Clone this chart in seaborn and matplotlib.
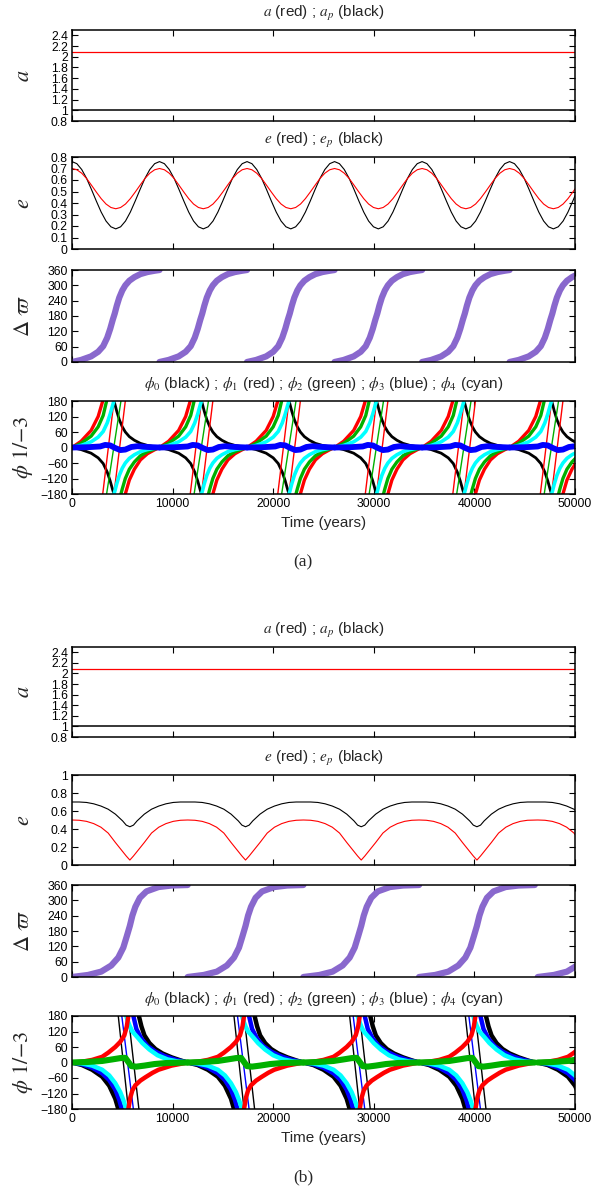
import numpy as np
import pandas as pd
import matplotlib
matplotlib.use("Agg")
import matplotlib.pyplot as plt
from matplotlib.ticker import FuncFormatter
import seaborn as sns

# ---------------------------------------------------------------- data (a)
a_t = [0, 50000]
a_red_a = [2.08, 2.08]      # a   (red)
a_black_a = [1.0, 1.0]      # a_p (black)

# start of every circulation of the apsidal angle (years)
cycle_a = [0, 8700, 17400, 26100, 34800, 43500]

# one cycle of e and e_p, offsets in years from the cycle start
e_off_a = [0, 483, 967, 1450, 1933, 2417, 2900, 3383, 3867, 4350,
           4833, 5317, 5800, 6283, 6767, 7250, 7733, 8217]
e_black_a = [0.760, 0.742, 0.691, 0.614, 0.518, 0.417, 0.321, 0.243, 0.193,
             0.175, 0.193, 0.243, 0.321, 0.417, 0.518, 0.614, 0.691, 0.742]
e_red_a = [0.700, 0.689, 0.659, 0.613, 0.555, 0.495, 0.438, 0.391, 0.361,
           0.350, 0.361, 0.391, 0.438, 0.495, 0.555, 0.613, 0.659, 0.689]

# delta varpi, one cycle
dw_a = [([0, 900, 1900, 2600, 3100, 3500, 3800, 4050, 4250, 4450, 4700, 5000,
          5300, 5700, 6200, 6800, 7500, 8200, 8700],
         [0, 8, 22, 40, 62, 95, 130, 165, 190, 220, 252, 280,
          300, 318, 332, 344, 352, 357, 360])]

# resonant angles, one cycle, split where they wrap at +-180
phi0_a = [([0, 900, 1900, 2600, 3100, 3500, 3800, 4050, 4170],
           [0, -8, -22, -40, -62, -95, -130, -165, -180]),
          ([4170, 4250, 4450, 4700, 5000, 5300, 5700, 6200, 6800, 7500, 8200, 8700],
           [180, 170, 140, 108, 80, 60, 42, 28, 16, 8, 3, 0])]
phi1_a = [([0, 900, 1900, 2600, 3055], [0, 24, 66, 120, 180]),
          ([3055, 4170], [-180, 180]),
          ([4170, 5300], [-180, 180]),
          ([5300, 5700, 6200, 6800, 7500, 8200, 8700],
           [-180, -126, -84, -48, -24, -9, 0])]
phi2_a = [([0, 900, 1900, 2600, 3100, 3440], [0, 16, 44, 80, 124, 180]),
          ([3440, 4865], [-180, 180]),
          ([4865, 5000, 5300, 5700, 6200, 6800, 7500, 8200, 8700],
           [-180, -160, -120, -84, -56, -32, -16, -6, 0])]
phi3_a = [([0, 1500, 2800, 3300, 3800, 4300, 4800, 5300, 5900, 6500, 7500, 8700],
           [0, 1, 4, 10, 8, -2, -10, -8, 2, 5, 2, 0])]
phi4_a = [([0, 900, 1900, 2600, 3100, 3500, 3800, 4050, 4170],
           [0, 8, 22, 40, 62, 95, 130, 165, 180]),
          ([4170, 4250, 4450, 4700, 5000, 5300, 5700, 6200, 6800, 7500, 8200, 8700],
           [-180, -170, -140, -108, -80, -60, -42, -28, -16, -8, -3, 0])]

# ---------------------------------------------------------------- data (b)
a_red_b = [2.09, 2.09]
a_black_b = [1.0, 1.0]

cycle_b = [0, 11500, 23000, 34500, 46300]

e_off_b = [0, 719, 1438, 2156, 2875, 3594, 4313, 5031, 5390, 5750, 6110, 6469,
           7188, 7906, 8625, 9344, 10063, 10781]
e_black_b = [0.700, 0.700, 0.695, 0.680, 0.655, 0.620, 0.565, 0.490, 0.443, 0.425,
             0.443, 0.490, 0.565, 0.620, 0.655, 0.680, 0.695, 0.700]
e_red_b = [0.500, 0.497, 0.485, 0.460, 0.420, 0.355, 0.250, 0.150, 0.100, 0.055,
           0.100, 0.150, 0.250, 0.355, 0.420, 0.460, 0.485, 0.497]

dw_b = [([0, 1600, 2900, 3900, 4600, 5100, 5450, 5750, 6000, 6300, 6750, 7400,
          8600, 9900, 11500],
         [0, 8, 21, 45, 76, 115, 160, 200, 240, 275, 310, 335, 352, 358, 360])]

phi0_b = [([0, 1000, 2000, 3000, 3700, 4300, 4600],
           [0, -10, -28, -55, -90, -140, -180]),
          ([4600, 5600], [180, -180]),
          ([5600, 6650], [180, -180]),
          ([6650, 6900, 7200, 7700, 8300, 9000, 9900, 10800, 11500],
           [180, 140, 105, 75, 52, 35, 20, 8, 0])]
phi1_b = [([0, 1000, 2000, 3000, 3600, 4300, 4800, 5200, 5450, 5600],
           [0, 3, 10, 22, 38, 60, 80, 105, 140, 180]),
          ([5600, 5800, 6000, 6300, 6800, 7300, 8000, 8600, 9900, 11500],
           [-180, -135, -108, -88, -70, -57, -40, -28, -12, 0])]
phi2_b = [([0, 1500, 3000, 4000, 4800, 5300, 5600, 5900, 6400, 7200, 8200, 9400, 11500],
           [0, 2, 6, 12, 17, 18, 2, -14, -16, -12, -6, -2, 0])]
phi3_b = [([0, 1000, 2000, 3000, 3700, 4300, 4700, 4950],
           [0, -7, -20, -42, -68, -105, -145, -180]),
          ([4950, 6100], [180, -180]),
          ([6100, 6400, 6900, 7500, 8300, 9200, 10200, 11500],
           [180, 130, 92, 64, 42, 25, 12, 0])]
phi4_b = [([0, 1000, 2000, 3000, 3700, 4300, 4800, 5100, 5400],
           [0, -4, -12, -28, -50, -80, -115, -145, -180]),
          ([5400, 5550, 5750, 6000, 6500, 7000, 7700, 8500, 9500, 10500, 11500],
           [180, 160, 140, 120, 98, 75, 50, 28, 12, 4, 0])]

time_ticks = [0, 10000, 20000, 30000, 40000, 50000]
a_ticks = [0.8, 1, 1.2, 1.4, 1.6, 1.8, 2, 2.2, 2.4]
e_ticks_a = [0, 0.1, 0.2, 0.3, 0.4, 0.5, 0.6, 0.7, 0.8]
e_ticks_b = [0, 0.2, 0.4, 0.6, 0.8, 1]
dw_ticks = [0, 60, 120, 180, 240, 300, 360]
phi_ticks = [-180, -120, -60, 0, 60, 120, 180]

RED, BLACK, GREEN, BLUE, CYAN = "#ff0000", "#000000", "#00b000", "#0000ff", "#00ffff"
PURPLE = "#8968cd"

# ---------------------------------------------------------------- style
sns.set_style("ticks")
plt.rcParams["font.family"] = ["Liberation Sans", "DejaVu Sans"]
plt.rcParams["mathtext.fontset"] = "stix"


def build(starts, segs, joined=False):
    rows = []
    k = 0
    for s in starts:
        for off, val in segs:
            for o, v in zip(off, val):
                rows.append((s + o, v, 0 if joined else k, len(off) == 2))
            k += 1
    df = pd.DataFrame(rows, columns=["t", "v", "seg", "steep"])
    return df.sort_values("t") if joined else df


def draw(ax, df, color, lw, thin=1.0):
    for steep, part in df.groupby("steep"):
        sns.lineplot(data=part, x="t", y="v", units="seg", estimator=None,
                     sort=False, color=color, lw=thin if steep else lw,
                     solid_capstyle="round", ax=ax, legend=False)


fmt = FuncFormatter(lambda v, p: f"{v:g}".replace("-", "\u2212"))
W, H = 607, 1190
fig = plt.figure(figsize=(W / 100, H / 100), dpi=100)


def panel(top, bottom):
    return fig.add_axes([72 / W, 1 - bottom / H, 503 / W, (bottom - top) / H])


def style(ax, ylim, yticks, ylabel, title=None, xlab=False):
    ax.set_xlim(0, 50000)
    ax.set_ylim(*ylim)
    ax.set_xticks(time_ticks)
    ax.set_yticks(yticks)
    ax.xaxis.set_major_formatter(fmt)
    ax.yaxis.set_major_formatter(fmt)
    ax.tick_params(direction="in", top=True, right=True, length=4, width=0.8,
                   labelsize=8.8, pad=3, labelbottom=xlab, colors="black")
    ax.set_ylabel(ylabel, fontsize=16, va="center")
    ax.yaxis.set_label_coords(-0.097, 0.5)
    ax.set_xlabel("Time (years)" if xlab else "", fontsize=11, labelpad=4)
    if title:
        ax.annotate(title, xy=(0.5, 1), xycoords="axes fraction",
                    xytext=(0, 12.2), textcoords="offset points",
                    ha="center", va="center", fontsize=11)
    for s in ax.spines.values():
        s.set_linewidth(1.1)
        s.set_color("black")


phi_title = (r"$\phi_0$ (black) ; $\phi_1$ (red) ; $\phi_2$ (green) ; "
             r"$\phi_3$ (blue) ; $\phi_4$ (cyan)")

sets = [
    dict(tops=[(30, 121), (157, 249), (270, 362), (401, 494)], tag="(a)", tag_y=562,
         a_red=a_red_a, a_black=a_black_a, cyc=cycle_a,
         e_off=e_off_a, e_black=e_black_a, e_red=e_red_a, e_lim=(0, 0.8), e_ticks=e_ticks_a,
         dw=dw_a,
         phis=[(phi0_a, BLACK, 2.0), (phi1_a, RED, 2.4), (phi2_a, GREEN, 2.4),
               (phi4_a, CYAN, 2.6), (phi3_a, BLUE, 4.2)]),
    dict(tops=[(647, 737), (775, 865), (885, 977), (1016, 1109)], tag="(b)", tag_y=1177,
         a_red=a_red_b, a_black=a_black_b, cyc=cycle_b,
         e_off=e_off_b, e_black=e_black_b, e_red=e_red_b, e_lim=(0, 1), e_ticks=e_ticks_b,
         dw=dw_b,
         phis=[(phi0_b, BLACK, 3.2), (phi3_b, BLUE, 3.2), (phi4_b, CYAN, 3.2),
               (phi1_b, RED, 3.2), (phi2_b, GREEN, 4.4)]),
]

for S in sets:
    ax1, ax2, ax3, ax4 = [panel(t, b) for t, b in S["tops"]]

    # semi-major axes
    sns.lineplot(x=a_t, y=S["a_red"], color=RED, lw=0.9, ax=ax1)
    sns.lineplot(x=a_t, y=S["a_black"], color=BLACK, lw=1.1, ax=ax1)
    style(ax1, (0.8, 2.5), a_ticks, r"$a$", r"$a$ (red) ; $a_p$ (black)")

    # eccentricities
    draw(ax2, build(S["cyc"], [(S["e_off"], S["e_black"])], joined=True), BLACK, 0.8)
    draw(ax2, build(S["cyc"], [(S["e_off"], S["e_red"])], joined=True), RED, 0.8)
    style(ax2, S["e_lim"], S["e_ticks"], r"$e$", r"$e$ (red) ; $e_p$ (black)")

    # apsidal angle
    draw(ax3, build(S["cyc"], S["dw"]), PURPLE, 4.5)
    style(ax3, (0, 360), dw_ticks, r"$\Delta\ \varpi$")

    # resonant angles
    for segs, col, lw in S["phis"]:
        draw(ax4, build(S["cyc"], segs), col, lw)
    style(ax4, (-180, 180), phi_ticks, r"$\phi\ \mathit{1/{-}3}$", phi_title, xlab=True)

    fig.text(303 / W, 1 - S["tag_y"] / H, S["tag"], ha="center", va="center",
             family="Liberation Serif", fontsize=12.5)

fig.savefig("out.png", dpi=100)
